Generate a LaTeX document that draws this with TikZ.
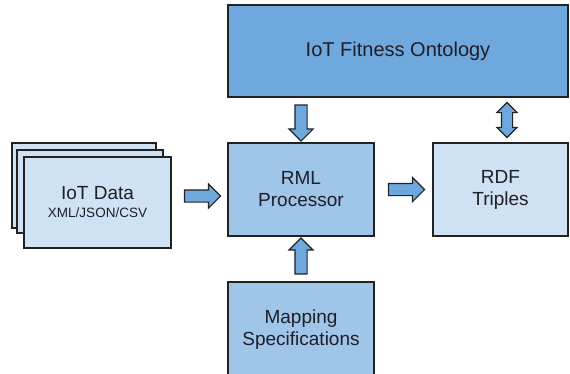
\documentclass[tikz,border=0pt]{standalone}
\usepackage{fontspec}
\setmainfont{Liberation Sans}
\usetikzlibrary{shapes.arrows,calc}

\definecolor{ontoblue}{HTML}{6FA8DC}
\definecolor{midblue}{HTML}{9FC5E8}
\definecolor{paleblue}{HTML}{CFE2F3}
\definecolor{edgegray}{HTML}{222222}
\definecolor{labelink}{HTML}{1E1E28}

\tikzset{
  box/.style={draw=edgegray, line width=1.4pt, align=center, text=labelink,
    inner sep=0pt, font=\fontsize{19}{22}\selectfont},
  stackbox/.style={box, fill=paleblue},
  blockarrow/.style={single arrow, draw=edgegray, fill=ontoblue, line width=1.1pt,
    minimum height=36pt, minimum width=23pt, single arrow head extend=6pt,
    inner xsep=0pt, inner ysep=5.5pt, text height=0pt, text depth=0pt},
  twinarrow/.style={double arrow, draw=edgegray, fill=ontoblue, line width=1.1pt,
    minimum height=35pt, minimum width=19pt, double arrow head extend=4.5pt,
    inner xsep=0pt, inner ysep=5pt, text height=0pt, text depth=0pt}
}

\begin{document}
\begin{tikzpicture}[x=1pt, y=-1pt]
  \useasboundingbox (0,0) rectangle (570,373);
  \clip (0,0) rectangle (570,373);

  % main blocks
  \node[box, fill=ontoblue, minimum width=340pt, minimum height=92pt,
        font=\fontsize{20}{24}\selectfont] (onto) at (398,51) {IoT Fitness Ontology};
  \node[box, fill=midblue, minimum width=146pt, minimum height=93pt] (rml) at (301,189.5) {RML\\Processor};
  \node[box, fill=paleblue, minimum width=135pt, minimum height=93pt] (rdf) at (500.5,189.5) {RDF\\Triples};
  \node[box, fill=midblue, minimum width=146pt, minimum height=96pt] (map) at (301,330) {Mapping\\Specifications};

  % stacked input documents
  \node[stackbox, minimum width=144pt, minimum height=85pt] (databack) at (84,185.5) {};
  \node[stackbox, minimum width=146pt, minimum height=83pt] (datamid) at (90,191.5) {};
  \node[stackbox, minimum width=147pt, minimum height=91pt] (data) at (97.5,202.5)
    {IoT Data\\[-4pt]{\fontsize{13.5}{16}\selectfont XML/JSON/CSV}};

  % block arrows between the stages
  \node[blockarrow] (indata) at ($(data.east)!0.5!(rml.west)$) {};
  \node[blockarrow] (outrdf) at ($(rml.east)!0.5!(rdf.west)$) {};
  \node[blockarrow, rotate=-90] (fromonto) at ($(rml.north)!0.5!(rml.north |- onto.south)$) {};
  \node[blockarrow, rotate=90] (frommap) at ($(rml.south)!0.5!(map.north)$) {};
  \coordinate (linkx) at ($(rdf.north)+(6.5,0)$);
  \node[twinarrow, rotate=90] (ontolink) at ($(linkx)!0.5!(linkx |- onto.south)$) {};
\end{tikzpicture}
\end{document}
